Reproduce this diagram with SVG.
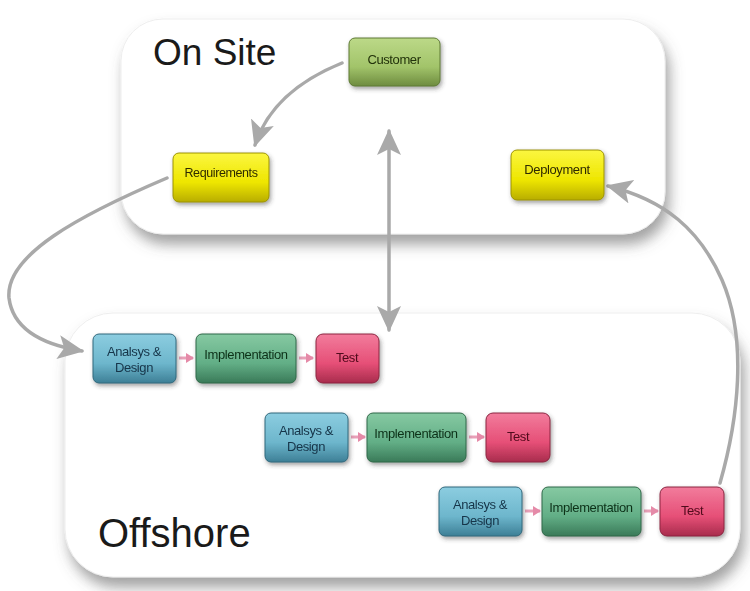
<svg xmlns="http://www.w3.org/2000/svg" width="750" height="591" viewBox="0 0 750 591">
<defs>
<filter id="bigShadow" x="-10%" y="-10%" width="125%" height="130%">
<feDropShadow dx="4" dy="10" stdDeviation="7" flood-color="#555" flood-opacity="0.55"/>
</filter>
<filter id="nodeShadow" x="-20%" y="-20%" width="150%" height="160%">
<feDropShadow dx="1.5" dy="2.5" stdDeviation="2" flood-color="#333" flood-opacity="0.45"/>
</filter>
<linearGradient id="gYellow" x1="0" y1="0" x2="0" y2="1">
<stop offset="0" stop-color="#fbf640"/><stop offset="0.6" stop-color="#eee600"/><stop offset="1" stop-color="#b8ad00"/>
</linearGradient>
<linearGradient id="gCust" x1="0" y1="0" x2="0" y2="1">
<stop offset="0" stop-color="#bcd988"/><stop offset="0.6" stop-color="#a2c46a"/><stop offset="1" stop-color="#6e8c40"/>
</linearGradient>
<linearGradient id="gBlue" x1="0" y1="0" x2="0" y2="1">
<stop offset="0" stop-color="#8ccde0"/><stop offset="0.6" stop-color="#6db6cc"/><stop offset="1" stop-color="#3d7f96"/>
</linearGradient>
<linearGradient id="gGreen" x1="0" y1="0" x2="0" y2="1">
<stop offset="0" stop-color="#86c9a2"/><stop offset="0.6" stop-color="#62ae86"/><stop offset="1" stop-color="#3a7a58"/>
</linearGradient>
<linearGradient id="gPink" x1="0" y1="0" x2="0" y2="1">
<stop offset="0" stop-color="#f27c9c"/><stop offset="0.6" stop-color="#e64f77"/><stop offset="1" stop-color="#a82c4c"/>
</linearGradient>
<marker id="bigHead" viewBox="0 0 26 24" refX="24" refY="12" markerWidth="26" markerHeight="24" markerUnits="userSpaceOnUse" orient="auto">
<path d="M0,0 L26,12 L0,24 L6,12 Z" fill="#a9a9a9"/>
</marker>
<marker id="bigTail" viewBox="0 0 26 24" refX="2" refY="12" markerWidth="26" markerHeight="24" markerUnits="userSpaceOnUse" orient="auto">
<path d="M26,0 L0,12 L26,24 L20,12 Z" fill="#a9a9a9"/>
</marker>
<marker id="pinkHead" viewBox="0 0 8 10" refX="7" refY="5" markerWidth="8" markerHeight="10" markerUnits="userSpaceOnUse" orient="auto">
<path d="M0,0 L8,5 L0,10 Z" fill="#e58aa8"/>
</marker>
</defs>
<style>
.big{fill:#ffffff;stroke:#eeeeee;stroke-width:1}
.title{font-family:"Liberation Sans",Arial,sans-serif;fill:#1a1a1a}
.node rect{stroke-width:1}
.lbl{font-family:"Liberation Sans",Arial,sans-serif;font-size:13px;text-anchor:middle;letter-spacing:-0.4px}
.yel{fill:url(#gYellow);stroke:#9c9300}
.cus{fill:url(#gCust);stroke:#5e7a34}
.blu{fill:url(#gBlue);stroke:#30687c}
.grn{fill:url(#gGreen);stroke:#2f6848}
.pnk{fill:url(#gPink);stroke:#8c2440}
.tY{fill:#2e2a00}
.tC{fill:#22320a}
.tB{fill:#163448}
.tG{fill:#0c3018}
.tP{fill:#50081a}
.conn{fill:none;stroke:#a9a9a9;stroke-width:3.5;stroke-linecap:round}
.pink{fill:none;stroke:#e8a0b8;stroke-width:3}
</style>
<rect width="750" height="591" fill="#ffffff"/>

<g id="onsite">
<rect class="big" x="121" y="19" width="544" height="215" rx="42" filter="url(#bigShadow)"/>
<text class="title" x="153" y="65" font-size="37">On Site</text>
</g>
<g id="offshore">
<rect class="big" x="65" y="313" width="675" height="264" rx="48" filter="url(#bigShadow)"/>
<text class="title" x="98" y="547" font-size="40">Offshore</text>
</g>

<g id="connectors">
<path class="conn" d="M342,63 C300,80 268,105 255,145" marker-end="url(#bigHead)"/>
<path class="conn" d="M167,178 C80,215 5,255 9,298 C13,330 45,345 82,351" marker-end="url(#bigHead)"/>
<path class="conn" d="M389,131 L389,330" marker-start="url(#bigTail)" marker-end="url(#bigHead)"/>
<path class="conn" d="M720,483 C738,420 748,340 722,280 C700,230 665,200 608,186" marker-end="url(#bigHead)"/>
<path class="pink" d="M179,358 L193,358" marker-end="url(#pinkHead)"/>
<path class="pink" d="M299,358 L313,358" marker-end="url(#pinkHead)"/>
<path class="pink" d="M351,437 L365,437" marker-end="url(#pinkHead)"/>
<path class="pink" d="M469,437 L484,437" marker-end="url(#pinkHead)"/>
<path class="pink" d="M525,511 L540,511" marker-end="url(#pinkHead)"/>
<path class="pink" d="M644,511 L658,511" marker-end="url(#pinkHead)"/>
</g>

<g id="customer" class="node" filter="url(#nodeShadow)">
<rect class="cus" x="349" y="38" width="91" height="48" rx="6"/>
<text class="lbl tC" x="394" y="64">Customer</text>
</g>
<g id="requirements" class="node" filter="url(#nodeShadow)">
<rect class="yel" x="173" y="153" width="96" height="49" rx="6"/>
<text class="lbl tY" x="221" y="177" style="font-size:12.5px">Requirements</text>
</g>
<g id="deployment" class="node" filter="url(#nodeShadow)">
<rect class="yel" x="511" y="150" width="93" height="50" rx="6"/>
<text class="lbl tY" x="557" y="174">Deployment</text>
</g>

<g id="ad1" class="node" filter="url(#nodeShadow)">
<rect class="blu" x="93" y="334" width="83" height="49" rx="6"/>
<text class="lbl tB" x="134" y="356">Analsys &amp;</text>
<text class="lbl tB" x="134" y="372">Design</text>
</g>
<g id="impl1" class="node" filter="url(#nodeShadow)">
<rect class="grn" x="196" y="334" width="100" height="49" rx="6"/>
<text class="lbl tG" x="246" y="359">Implementation</text>
</g>
<g id="test1" class="node" filter="url(#nodeShadow)">
<rect class="pnk" x="316" y="334" width="63" height="49" rx="7"/>
<text class="lbl tP" x="347" y="362">Test</text>
</g>

<g id="ad2" class="node" filter="url(#nodeShadow)">
<rect class="blu" x="265" y="413" width="83" height="49" rx="6"/>
<text class="lbl tB" x="306" y="435">Analsys &amp;</text>
<text class="lbl tB" x="306" y="451">Design</text>
</g>
<g id="impl2" class="node" filter="url(#nodeShadow)">
<rect class="grn" x="367" y="413" width="99" height="49" rx="6"/>
<text class="lbl tG" x="416" y="438">Implementation</text>
</g>
<g id="test2" class="node" filter="url(#nodeShadow)">
<rect class="pnk" x="486" y="413" width="64" height="49" rx="7"/>
<text class="lbl tP" x="518" y="441">Test</text>
</g>

<g id="ad3" class="node" filter="url(#nodeShadow)">
<rect class="blu" x="439" y="487" width="83" height="49" rx="6"/>
<text class="lbl tB" x="480" y="509">Analsys &amp;</text>
<text class="lbl tB" x="480" y="525">Design</text>
</g>
<g id="impl3" class="node" filter="url(#nodeShadow)">
<rect class="grn" x="542" y="487" width="99" height="49" rx="6"/>
<text class="lbl tG" x="591" y="512">Implementation</text>
</g>
<g id="test3" class="node" filter="url(#nodeShadow)">
<rect class="pnk" x="660" y="487" width="64" height="49" rx="7"/>
<text class="lbl tP" x="692" y="515">Test</text>
</g>
</svg>
